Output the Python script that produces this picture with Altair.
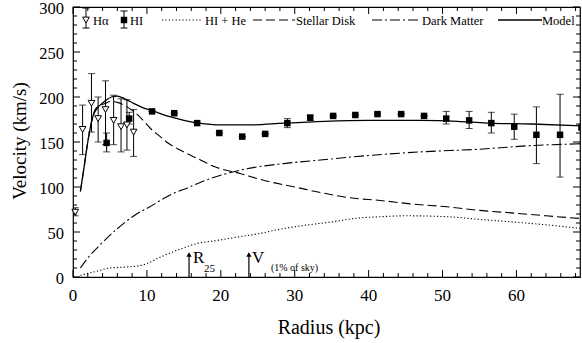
import altair as alt
import pandas as pd

# ---- H-alpha rotation velocities (open triangles) ----
ha_r = [0.3, 1.3, 2.5, 3.4, 4.4, 5.5, 6.5, 7.3, 8.2]
ha_v = [72, 164, 193, 176, 186, 174, 167, 169, 161]
ha_lo = [68, 136, 161, 150, 147, 147, 139, 141, 134]
ha_hi = [77, 191, 226, 200, 218, 202, 198, 197, 186]

# ---- HI rotation velocities (filled squares) ----
hi_r = [4.55, 7.6, 10.7, 13.7, 16.8, 19.8, 22.9, 26.0, 29.0, 32.1, 35.2,
        38.2, 41.2, 44.4, 47.5, 50.5, 53.6, 56.6, 59.7, 62.7, 65.9, 68.8]
hi_v = [149, 176, 184, 182, 171, 160, 156, 159, 171, 177, 179,
        180, 181, 181, 179, 176, 174, 171, 167, 158, 158, 166]
hi_lo = [139, 170, 184, 182, 171, 160, 156, 159, 166, 174, 179,
         180, 181, 181, 179, 170, 165, 160, 153, 126, 111, 148]
hi_hi = [160, 183, 184, 182, 171, 160, 156, 159, 176, 180, 179,
         180, 181, 181, 179, 184, 184, 183, 181, 189, 203, 200]

# ---- mass-model components ----
model_r = [1.0, 1.5, 2.0, 2.5, 3.0, 3.7, 4.4, 5.2, 6.0, 7.0, 8.2, 9.5, 10.7,
           12.0, 13.6, 15.0, 17.0, 20.0, 24.0, 28.5, 34.0, 40.0, 47.0, 52.0,
           56.0, 62.0, 68.6]
model_v = [95, 122, 150, 172, 186, 191, 196, 200, 201, 198, 193, 188, 185,
           181, 177, 174, 171, 169, 169, 171, 173, 174, 174, 173,
           171, 170, 168]

disk_r = [1.0, 1.5, 2.0, 2.5, 3.0, 3.7, 4.4, 5.0, 6.0, 7.3, 8.5, 9.5, 10.5,
          11.8, 13.0, 14.5, 17.0, 19.0, 22.6, 26.0, 30.0, 34.0, 37.5, 41.6,
          46.0, 50.6, 55.0, 59.7, 64.0, 68.6]
disk_v = [95, 122, 150, 172, 184, 190, 193, 195, 194, 189, 182, 174, 165,
          156, 148, 141, 131, 123, 115, 107, 100, 93, 88, 85,
          81, 78, 74, 71, 68, 65]

dm_r = [1.0, 2.0, 3.7, 5.9, 8.6, 10.4, 12.0, 13.6, 15.5, 17.2, 20.8, 24.0,
        28.5, 33.5, 40.0, 47.0, 55.0, 62.0, 68.6]
dm_v = [10, 21, 36, 53, 70, 78, 86, 93, 99, 105, 115, 121,
        126, 130, 135, 139, 142, 146, 148]

gas_r = [1.0, 3.0, 5.0, 7.0, 8.6, 10.0, 11.8, 14.5, 17.2, 19.0, 22.0, 25.0,
         28.0, 31.0, 34.8, 38.0, 41.6, 45.0, 50.6, 55.0, 59.7, 64.0, 68.6]
gas_v = [2, 6, 10, 11, 12, 15, 22, 31, 38, 40, 44, 48,
         53, 57, 61, 65, 67, 68, 67, 64, 61, 58, 54]

# ---- reference radii marked with arrows ----
mark_r = [15.7, 23.8]
mark_tip = [25, 25]

# ---- axis ticks and titles ----
x_labels = [0, 10, 20, 30, 40, 50, 60]
x_minor = [v for v in range(2, 69, 2) if v % 10 != 0]
y_labels = [0, 50, 100, 150, 200, 250, 300]
y_minor = [v for v in range(10, 300, 10) if v % 50 != 0]
x_title = "Radius  (kpc)"
y_title = "Velocity (km/s)"

W, H = 507, 270
SERIF = "Liberation Serif"
XMAX = 68.6

xs = alt.Scale(domain=[0, XMAX], nice=False, zero=False)
ys = alt.Scale(domain=[0, 300], nice=False, zero=False)


def X(field="r"):
    return alt.X(f"{field}:Q", scale=xs, axis=None)


def Y(field="v"):
    return alt.Y(f"{field}:Q", scale=ys, axis=None)


ha = pd.DataFrame({"r": ha_r, "v": ha_v, "lo": ha_lo, "hi": ha_hi})
hi = pd.DataFrame({"r": hi_r, "v": hi_v, "lo": hi_lo, "hi": hi_hi})
model = pd.DataFrame({"r": model_r, "v": model_v})
disk = pd.DataFrame({"r": disk_r, "v": disk_v})
dm = pd.DataFrame({"r": dm_r, "v": dm_v})
gas = pd.DataFrame({"r": gas_r, "v": gas_v})
marks = pd.DataFrame({"r": mark_r, "v": mark_tip, "base": [0, 0]})
one = pd.DataFrame({"k": [0]})


def curve(df, dash, width=1.1):
    kw = {"strokeDash": dash} if dash else {}
    return alt.Chart(df).mark_line(
        color="black", strokeWidth=width, interpolate="monotone", clip=True, **kw
    ).encode(x=X(), y=Y())


lines = [
    curve(gas, [1.2, 2.2]),
    curve(disk, [9, 4]),
    curve(dm, [10, 3, 2, 3]),
    curve(model, None, 1.3),
]


def errbars(df):
    bar = alt.Chart(df).mark_rule(color="black", strokeWidth=1, clip=True).encode(
        x=X(), y=Y("lo"), y2="hi:Q")
    cap_lo = alt.Chart(df).mark_tick(color="black", thickness=1, size=7,
                                     orient="horizontal", clip=True).encode(
        x=X(), y=Y("lo"))
    cap_hi = alt.Chart(df).mark_tick(color="black", thickness=1, size=7,
                                     orient="horizontal", clip=True).encode(
        x=X(), y=Y("hi"))
    return [bar, cap_lo, cap_hi]


ha_pts = alt.Chart(ha).mark_point(shape="triangle-down", filled=True,
                                  fill="white", stroke="black", strokeWidth=1,
                                  size=45, opacity=1).encode(x=X(), y=Y())
hi_pts = alt.Chart(hi).mark_point(shape="square", filled=True, color="black",
                                  size=42, opacity=1, clip=True).encode(x=X(), y=Y())

# arrows at the marked radii
arrow_shaft = alt.Chart(marks).mark_rule(color="black", strokeWidth=1.2).encode(
    x=X(), y=Y("base"), y2="v:Q")
arrow_head = alt.Chart(marks).mark_point(shape="triangle-up", filled=True,
                                         color="black", size=28, opacity=1).encode(
    x=X(), y=Y())


def label(idx, text, dx, ypx, size):
    return alt.Chart(marks.iloc[[idx]]).mark_text(
        text=text, font=SERIF, fontSize=size, color="black", align="left",
        baseline="alphabetic", dx=dx).encode(x=X(), y=alt.value(ypx))


annotations = [
    arrow_shaft, arrow_head,
    label(0, "R", 4, 256, 17),
    label(0, "25", 15, 265, 11),
    label(1, "V", 3, 256, 17),
    label(1, "(1% of sky)", 22, 264, 10),
]


# frame ticks (drawn inward on all four sides)
def xticks(vals, length):
    df = pd.DataFrame({"r": vals})
    b = alt.Chart(df).mark_rule(color="black", strokeWidth=1).encode(
        x=X(), y=alt.value(H), y2=alt.value(H - length))
    t = alt.Chart(df).mark_rule(color="black", strokeWidth=1).encode(
        x=X(), y=alt.value(0), y2=alt.value(length))
    return [b, t]


def yticks(vals, length):
    df = pd.DataFrame({"v": vals})
    l = alt.Chart(df).mark_rule(color="black", strokeWidth=1).encode(
        y=Y(), x=alt.value(0), x2=alt.value(length))
    r = alt.Chart(df).mark_rule(color="black", strokeWidth=1).encode(
        y=Y(), x=alt.value(W), x2=alt.value(W - length))
    return [l, r]


ticks = (xticks(x_labels, 7) + xticks(x_minor, 4)
         + yticks(y_labels, 7) + yticks(y_minor, 4))

# tick labels and axis titles
x_lab = alt.Chart(pd.DataFrame({"r": x_labels})).mark_text(
    font=SERIF, fontSize=17, color="black", align="center", baseline="middle"
).encode(x=X(), y=alt.value(H + 19), text=alt.Text("r:Q"))
y_lab = alt.Chart(pd.DataFrame({"v": y_labels})).mark_text(
    font=SERIF, fontSize=16.5, color="black", align="right", baseline="middle",
    dy=1.5
).encode(y=Y(), x=alt.value(-9), text=alt.Text("v:Q"))
x_tit = alt.Chart(one).mark_text(
    text=x_title, font=SERIF, fontSize=20, color="black", align="center",
    baseline="middle").encode(x=alt.value(256), y=alt.value(321))
y_tit = alt.Chart(one).mark_text(
    text=y_title, font=SERIF, fontSize=19, color="black", align="center",
    baseline="middle", angle=270).encode(x=alt.value(-53), y=alt.value(134))
guides = [x_lab, y_lab, x_tit, y_tit]

# in-plot key along the top edge
LY = 13
key = []


def key_line(x0, x1, dash, width=1.1):
    kw = {"strokeDash": dash} if dash else {}
    return alt.Chart(one).mark_rule(color="black", strokeWidth=width, **kw).encode(
        x=alt.value(x0), x2=alt.value(x1), y=alt.value(LY))


def key_text(x0, text):
    return alt.Chart(one).mark_text(text=text, font=SERIF, fontSize=12.5,
                                    color="black", align="left",
                                    baseline="middle").encode(
        x=alt.value(x0), y=alt.value(LY + 1))


def key_err(xc, top, bot):
    bar = alt.Chart(one).mark_rule(color="black", strokeWidth=1).encode(
        x=alt.value(xc), y=alt.value(top), y2=alt.value(bot))
    c1 = alt.Chart(one).mark_rule(color="black", strokeWidth=1).encode(
        x=alt.value(xc - 3.5), x2=alt.value(xc + 3.5), y=alt.value(top))
    c2 = alt.Chart(one).mark_rule(color="black", strokeWidth=1).encode(
        x=alt.value(xc - 3.5), x2=alt.value(xc + 3.5), y=alt.value(bot))
    return [bar, c1, c2]


key += key_err(13, 1, 21)
key.append(alt.Chart(one).mark_point(shape="triangle-down", filled=True,
                                     fill="white", stroke="black", strokeWidth=1,
                                     size=45, opacity=1).encode(
    x=alt.value(13), y=alt.value(LY)))
key.append(key_text(20, "Hα"))
key += key_err(51, 4, 21)
key.append(alt.Chart(one).mark_point(shape="square", filled=True, color="black",
                                     size=42, opacity=1).encode(
    x=alt.value(51), y=alt.value(LY)))
key.append(key_text(57, "HI"))
key.append(key_line(89, 129, [1.2, 2.2]))
key.append(key_text(132, "HI + He"))
key.append(key_line(180, 222, [9, 4]))
key.append(key_text(223, "Stellar Disk"))
key.append(key_line(299, 347, [10, 3, 2, 3]))
key.append(key_text(349, "Dark Matter"))
key.append(key_line(425, 469, None, 1.3))
key.append(key_text(469, "Model"))

layers = (ticks + lines + errbars(ha) + errbars(hi)
          + [ha_pts, hi_pts] + annotations + guides + key)

chart = alt.layer(*layers).properties(
    width=W, height=H,
    autosize=alt.AutoSizeParams(type="none"),
    padding={"left": 73, "top": 7, "right": 2, "bottom": 66},
    background="white",
).configure_view(stroke="black", strokeWidth=1.2)

chart.save("out.html", embed_options={"renderer": "svg", "actions": False})
